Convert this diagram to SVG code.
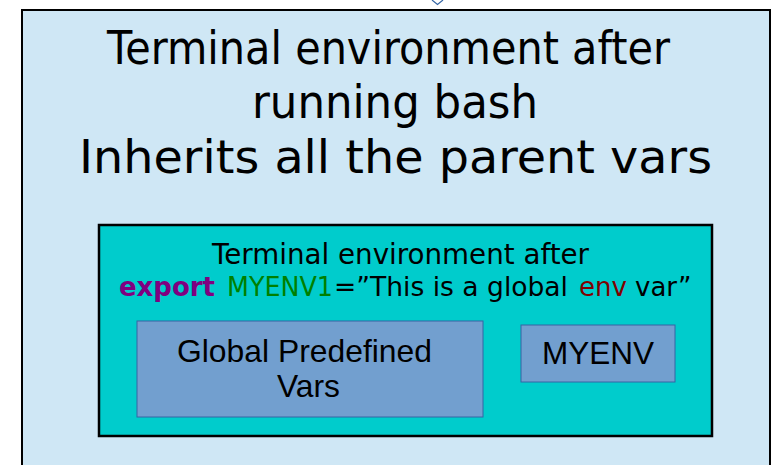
<svg xmlns="http://www.w3.org/2000/svg" width="774" height="465" viewBox="0 0 774 465">
  <style>
    .outer { fill: #cfe7f5; stroke: #000; stroke-width: 2; }
    .shell { fill: #00cccc; stroke: #000; stroke-width: 2.5; }
    .var { fill: #729fcf; stroke: #3465a4; stroke-width: 1; }
    .title { font-family: "DejaVu Sans", sans-serif; font-size: 46px; fill: #000; }
    .sub { font-family: "DejaVu Sans", sans-serif; font-size: 29px; fill: #000; }
    .code { font-family: "DejaVu Sans", sans-serif; font-size: 26px; fill: #000; }
    .kw { font-weight: bold; fill: #800080; }
    .name { fill: #008000; }
    .ref { fill: #800000; }
    .label { font-family: "Liberation Sans", Arial, sans-serif; font-size: 32px; fill: #000; }
    .conn { fill: none; stroke: #3465a4; stroke-width: 1.2; }
  </style>

  <!-- connectors -->
  <g id="connectors">
    <polyline class="conn" points="432,0 437.5,4.5 443,0"/>
  </g>

  <!-- bash child shell -->
  <g id="bash-shell">
    <rect class="outer" x="22" y="10" width="748" height="470"/>
    <text class="title" x="107" y="64" textLength="563" lengthAdjust="spacingAndGlyphs">Terminal environment after</text>
    <text class="title" x="252" y="118" textLength="286" lengthAdjust="spacingAndGlyphs">running bash</text>
    <text class="title" x="79" y="173" textLength="633" lengthAdjust="spacingAndGlyphs">Inherits all the parent vars</text>
  </g>

  <!-- terminal after export -->
  <g id="export-shell">
    <rect class="shell" x="99" y="225" width="613" height="211"/>
    <text class="sub" x="212" y="264" textLength="377" lengthAdjust="spacingAndGlyphs">Terminal environment after</text>
    <text class="code" y="296"><tspan class="kw" x="119" textLength="96" lengthAdjust="spacingAndGlyphs">export</tspan><tspan class="name" x="227" textLength="106" lengthAdjust="spacingAndGlyphs">MYENV1</tspan><tspan x="334" textLength="234" lengthAdjust="spacingAndGlyphs">=”This is a global</tspan><tspan class="ref" x="579" textLength="48" lengthAdjust="spacingAndGlyphs">env</tspan><tspan x="635">var”</tspan></text>
  </g>

  <!-- predefined variables -->
  <g id="global-vars">
    <rect class="var" x="137" y="321" width="346" height="96"/>
    <text class="label" x="177" y="362" textLength="255" lengthAdjust="spacingAndGlyphs">Global Predefined</text>
    <text class="label" x="277" y="397" textLength="63" lengthAdjust="spacingAndGlyphs">Vars</text>
  </g>

  <!-- exported variable -->
  <g id="myenv">
    <rect class="var" x="521" y="325" width="154" height="57"/>
    <text class="label" x="542" y="364" textLength="112" lengthAdjust="spacingAndGlyphs">MYENV</text>
  </g>
</svg>
